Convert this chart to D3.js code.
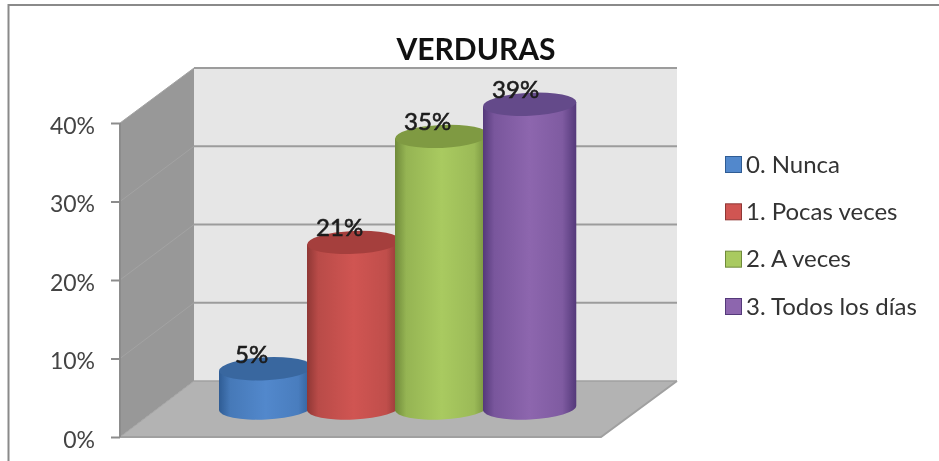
<!DOCTYPE html>
<html><head><meta charset="utf-8">
<script src="https://cdnjs.cloudflare.com/ajax/libs/d3/7.8.5/d3.min.js"></script>
<style>html,body{margin:0;background:#fff}svg{display:block;font-family:Lato,sans-serif;filter:blur(.45px)}</style>
</head><body><svg id="c" width="939" height="461"></svg>
<script>
const title = "VERDURAS";
const categories = ["0. Nunca","1. Pocas veces","2. A veces","3. Todos los días"];
const values = [0.05,0.211,0.346,0.387];
const yTicks = [0,0.1,0.2,0.3,0.4];
const colorsMid = ["#5288cc","#d05552","#a9ca60","#8d66ae"];
const colorsEdge = ["#2f5c94","#8f3735","#6f8a3a","#54397a"];
const colorsTop = ["#39679f","#a53f3d","#7f9a42","#644a8a"];

const svg = d3.select("#c");
const defs = svg.append("defs");
const yFront = d3.scaleLinear().domain([0,0.4]).range([437,123]);
const yBack = d3.scaleLinear().domain([0,0.4]).range([381,68]);
const yMid = d3.scaleLinear().domain([0,0.4]).range([408,94]);
const x = d3.scaleBand().domain(categories).range([219,571]).padding(0);
const frontX = [120,601], backX = [194,677];
const ry = 11.5, tilt = 2.2;
const w = x.bandwidth()*1.06;
const line = d3.line();

svg.append("path").attr("d",line([[8.5,461],[8.5,5],[939,5]])).attr("fill","none")
  .attr("stroke","#8a8a8a").attr("stroke-width",2);

svg.append("text").attr("x",476).attr("y",60).attr("text-anchor","middle")
  .attr("font-size",30).attr("font-weight",700).attr("fill","#111").text(title);

// walls and floor
svg.append("rect").attr("x",backX[0]).attr("y",yBack(0.4)).attr("width",backX[1]-backX[0])
  .attr("height",yBack(0)-yBack(0.4)).attr("fill","#e6e6e6");
svg.append("path").attr("d",line([[frontX[0],yFront(0)],[frontX[0],yFront(0.4)],[backX[0],yBack(0.4)],[backX[0],yBack(0)]])+"Z").attr("fill","#989898");
svg.append("path").attr("d",line([[frontX[0],yFront(0)],[frontX[1],yFront(0)],[backX[1],yBack(0)],[backX[0],yBack(0)]])+"Z").attr("fill","#b3b3b3");

// gridlines
yTicks.forEach(t=>{
  if(t>0) svg.append("line").attr("x1",backX[0]).attr("x2",backX[1]).attr("y1",yBack(t)).attr("y2",yBack(t)).attr("stroke","#9c9c9c").attr("stroke-width",2);
  svg.append("line").attr("x1",frontX[0]).attr("x2",backX[0]).attr("y1",yFront(t)).attr("y2",yBack(t)).attr("stroke","#a3a3a3").attr("stroke-width",1);
});
svg.append("path").attr("d",line([[frontX[0],yFront(0)],[frontX[1],yFront(0)],[backX[1],yBack(0)]])).attr("fill","none").attr("stroke","#a0a0a0").attr("stroke-width",2);
svg.append("line").attr("x1",backX[0]).attr("x2",backX[1]).attr("y1",yBack(0)).attr("y2",yBack(0)).attr("stroke","#a0a0a0").attr("stroke-width",1.5);

// axis
const axis = d3.axisLeft(yFront).tickValues(yTicks).tickFormat(d3.format(".0%")).tickSize(9).tickPadding(16);
const ag = svg.append("g").attr("transform",`translate(${frontX[0]},0)`).call(axis);
ag.select(".domain").attr("stroke","#8c8c8c").attr("stroke-width",2).attr("d",`M0,${yFront(0.4)}V${yFront(0)}`);
ag.selectAll(".tick line").attr("stroke","#8c8c8c").attr("stroke-width",2);
ag.selectAll("text").attr("font-size",23).attr("font-family","Lato,sans-serif").attr("fill","#444").attr("y",3);

// cylinders
categories.forEach((c,i)=>{
  const g = defs.append("linearGradient").attr("id","g"+i);
  [[0,colorsEdge[i]],[.12,d3.interpolateRgb(colorsEdge[i],colorsMid[i])(.65)],[.5,colorsMid[i]],[.85,d3.interpolateRgb(colorsEdge[i],colorsMid[i])(.75)],[1,colorsEdge[i]]]
    .forEach(([o,col])=>g.append("stop").attr("offset",o).attr("stop-color",col));
});
const cyl = svg.append("g").selectAll("g").data(categories).join("g");
cyl.append("path").attr("fill",(c,i)=>`url(#g${i})`).attr("d",(c,i)=>{
  const l=x(c), r=l+w, t=yMid(values[i]), b=yMid(0);
  const rot = -Math.atan(2*tilt/w)*180/Math.PI;
  return `M${l},${t+tilt}L${l},${b+tilt}A${w/2},${ry},${rot},0,0,${r},${b-tilt}L${r},${t-tilt}Z`;
});
cyl.append("ellipse").attr("fill",(c,i)=>colorsTop[i])
  .attr("rx",w/2).attr("ry",ry)
  .attr("transform",(c,i)=>`translate(${x(c)+w/2},${yMid(values[i])}) rotate(${-Math.atan(2*tilt/w)*180/Math.PI})`);
svg.append("g").selectAll("text").data(categories).join("text")
  .attr("x",c=>x(c)+w/2-14).attr("y",(c,i)=>yMid(values[i])-6)
  .attr("text-anchor","middle").attr("font-size",24).attr("fill","#1c1c1c")
  .attr("stroke","#1c1c1c").attr("stroke-width",.6)
  .text((c,i)=>d3.format(".0%")(values[i]));

// legend
const ly = d3.scalePoint().domain(categories).range([164.5,306.5]);
const lg = svg.append("g").selectAll("g").data(categories).join("g").attr("transform",c=>`translate(725,${ly(c)})`);
lg.append("rect").attr("x",.5).attr("y",-8).attr("width",16).attr("height",16)
  .attr("fill",(c,i)=>colorsMid[i]).attr("stroke",(c,i)=>colorsEdge[i]).attr("stroke-width",1);
lg.append("text").attr("x",21).attr("y",8).attr("font-size",24).attr("fill","#333").text(c=>c);
</script></body></html>
